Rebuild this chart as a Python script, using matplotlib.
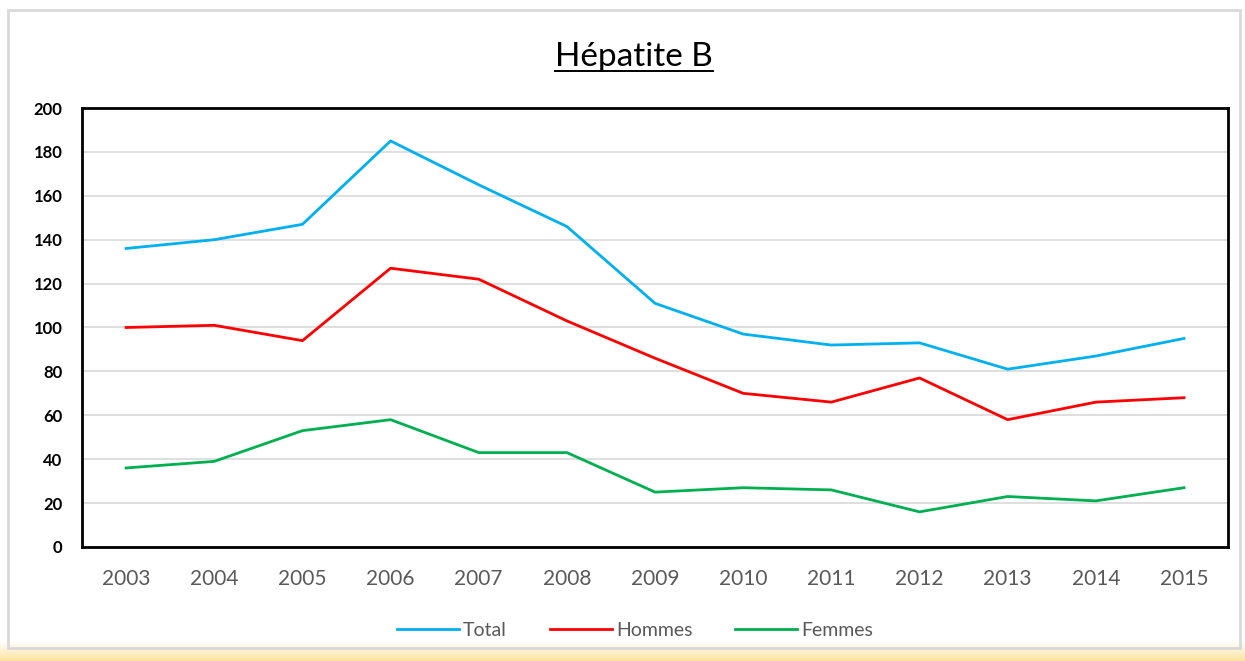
import numpy as np
import matplotlib
matplotlib.use('Agg')
import matplotlib.pyplot as plt
from matplotlib.lines import Line2D
from matplotlib.patches import Rectangle

plt.rcParams['font.family'] = ['Lato', 'DejaVu Sans']

# données
annees = ['2003', '2004', '2005', '2006', '2007', '2008', '2009',
          '2010', '2011', '2012', '2013', '2014', '2015']
total = [136, 140, 147, 185, 165, 146, 111, 97, 92, 93, 81, 87, 95]
hommes = [100, 101, 94, 127, 122, 103, 86, 70, 66, 77, 58, 66, 68]
femmes = [36, 39, 53, 58, 43, 43, 25, 27, 26, 16, 23, 21, 27]

fig = plt.figure(figsize=(12.45, 6.61), dpi=100)

# fond dégradé jaune en bas
bg = fig.add_axes([0, 0, 1, 0.03], zorder=-1)
grad = np.linspace(0, 1, 50).reshape(-1, 1)
cmap = matplotlib.colors.LinearSegmentedColormap.from_list('g', ['#fde3a0', '#ffffff'])
bg.imshow(grad, aspect='auto', cmap=cmap, origin='lower')
bg.axis('off')

# cadre gris clair
fig.patches.append(Rectangle((8 / 1245, 0.02), 1232 / 1245, 0.965, transform=fig.transFigure,
                             fill=False, edgecolor='#d9d9d9', linewidth=2))

ax = fig.add_axes([0.0659, 0.1725, 0.9205, 0.6641])
x = np.arange(len(annees))
ax.plot(x, total, color='#00b0f0', lw=2, label='Total')
ax.plot(x, hommes, color='#ff0000', lw=2, label='Hommes')
ax.plot(x, femmes, color='#00b050', lw=2, label='Femmes')

ax.set_xlim(-0.5, len(annees) - 0.5)
ax.set_ylim(0, 200)
ax.set_yticks(range(0, 201, 20))
ax.set_xticks(x)
ax.set_xticklabels(annees)
ax.grid(axis='y', color='#d9d9d9', lw=1.2)
ax.set_axisbelow(True)
for s in ax.spines.values():
    s.set_linewidth(2)
    s.set_color('black')
ax.tick_params(axis='both', length=0)
ax.tick_params(axis='x', labelsize=15, labelcolor='#595959', pad=16)
ax.tick_params(axis='y', labelsize=12, pad=14)
for t in ax.get_yticklabels():
    t.set_fontweight('bold')

leg = fig.legend(loc='center', bbox_to_anchor=(0.51, 0.046), ncol=3, frameon=False,
                 fontsize=14, handlelength=3.2, handletextpad=0.2, columnspacing=2.2)
for t in leg.get_texts():
    t.set_color('#595959')

title = fig.text(0.509, 0.914, 'Hépatite B', ha='center', va='center', fontsize=24)
fig.canvas.draw()
bb = title.get_window_extent().transformed(fig.transFigure.inverted())
fig.add_artist(Line2D([bb.x0, bb.x1], [bb.y0 + 0.002, bb.y0 + 0.002],
                      transform=fig.transFigure, color='black', lw=1.4))

fig.savefig('out.png', dpi=100)
